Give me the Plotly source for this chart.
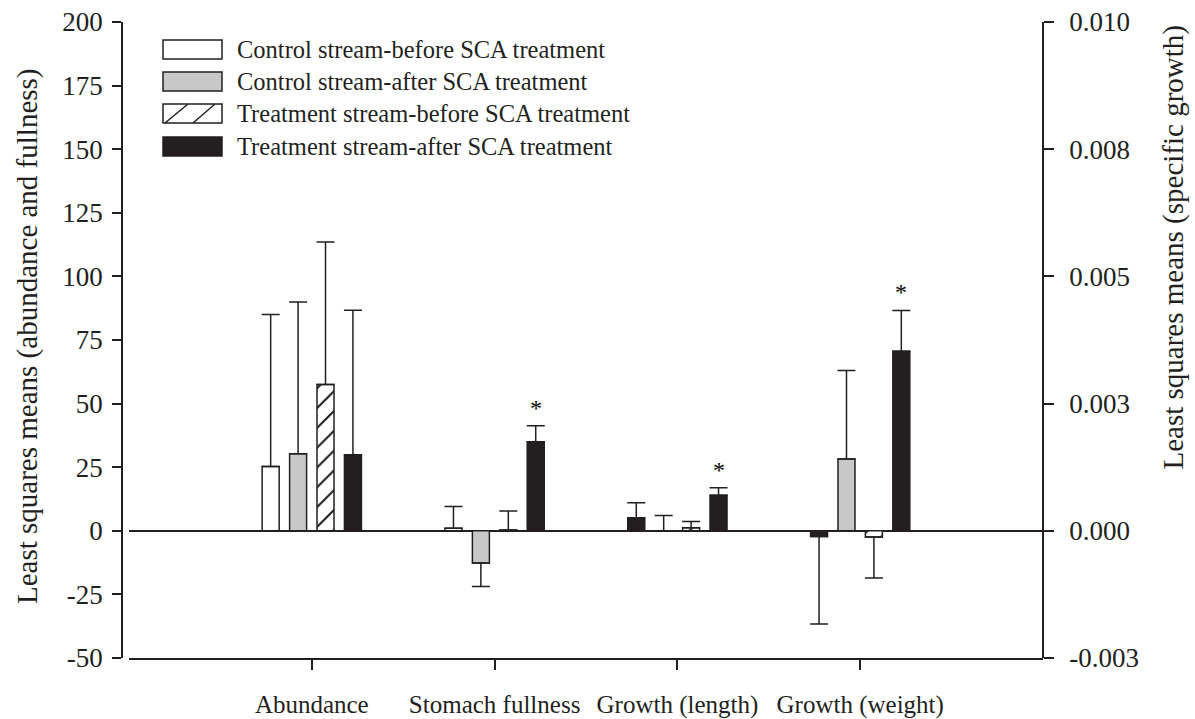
import plotly.graph_objects as go

# ---------------- data ----------------
categories = ["Abundance", "Stomach fullness", "Growth (length)", "Growth (weight)"]
series_names = [
    "Control stream-before SCA treatment",
    "Control stream-after SCA treatment",
    "Treatment stream-before SCA treatment",
    "Treatment stream-after SCA treatment",
]
# left axis (abundance, stomach fullness)
cb_left = [25.3, 1.0]
cb_left_err = [59.7, 8.6]
ca_left = [30.3, -12.7]
ca_left_err = [59.6, 9.2]
tb_left = [57.5, 0.3]
tb_left_err = [56.0, 7.5]
ta_left = [29.9, 35.0]
ta_left_err = [56.8, 6.3]
# right axis (specific growth: length, weight)
cb_right = [0.000255, -0.00011]
cb_right_err = [0.000295, 0.00172]
ca_right = [0.0, 0.00141]
ca_right_err = [0.0003, 0.00174]
tb_right = [0.00006, -0.00012]
tb_right_err = [0.000125, 0.00081]
ta_right = [0.0007, 0.00353]
ta_right_err = [0.000145, 0.0008]
# significance marks for treatment stream-after
ta_sig = [False, True, True, True]

left_tickvals = [-50, -25, 0, 25, 50, 75, 100, 125, 150, 175, 200]
left_ticktext = ["-50", "-25", "0", "25", "50", "75", "100", "125", "150", "175", "200"]
right_tickvals = [-0.0025, 0.0, 0.0025, 0.005, 0.0075, 0.01]
right_ticktext = ["-0.003", "0.000", "0.003", "0.005", "0.008", "0.010"]

# ---------------- style ----------------
W, H = 1195, 719
ML, MR, MT, MB = 122, 152, 22, 61
PW, PH = W - ML - MR, H - MT - MB
FONT = "Liberation Serif, Times New Roman, serif"
INK = "#231f20"
GRAY = "#c8c8c8"
WHITE = "#ffffff"

def xp(px):
    return (px - ML) / PW

def yp(py):
    return 1 - (py - MT) / PH

left_series = [(cb_left, cb_left_err), (ca_left, ca_left_err), (tb_left, tb_left_err), (ta_left, ta_left_err)]
right_series = [(cb_right, cb_right_err), (ca_right, ca_right_err), (tb_right, tb_right_err), (ta_right, ta_right_err)]
left_colors = [WHITE, GRAY, WHITE, INK]
right_colors = [INK, GRAY, WHITE, INK]
hatched = [False, False, True, False]

BW = 0.093
STEP = 0.15

fig = go.Figure()

def add_bars(xcats, vals, errs, color, hatch, offset, yaxis):
    plus = [e if v >= 0 else 0 for v, e in zip(vals, errs)]
    minus = [e if v < 0 else 0 for v, e in zip(vals, errs)]
    marker = dict(color=color, line=dict(color=INK, width=1.5))
    if hatch:
        marker["pattern"] = dict(shape="/", size=14, solidity=0.15, fgcolor=INK,
                                 fgopacity=1, bgcolor=WHITE, fillmode="replace")
    fig.add_trace(go.Bar(
        x=xcats, y=vals, width=BW, offset=offset, yaxis=yaxis,
        marker=marker, showlegend=False,
        error_y=dict(type="data", symmetric=False, array=plus, arrayminus=minus,
                     color=INK, thickness=1.5, width=9),
    ))

for i in range(4):
    off = (i - 1.5) * STEP - BW / 2
    v, e = left_series[i]
    add_bars(categories[:2], v, e, left_colors[i], hatched[i], off, "y")
    v, e = right_series[i]
    add_bars(categories[2:], v, e, right_colors[i], hatched[i], off, "y2")

annotations = []
# significance asterisks
ta_all = ta_left + ta_right
ta_err_all = ta_left_err + ta_right_err
for k, cat in enumerate(categories):
    if ta_sig[k]:
        annotations.append(dict(
            x=cat, y=ta_all[k] + ta_err_all[k], xref="x", yref="y" if k < 2 else "y2",
            xshift=(1.5 * STEP) * (914 / 5.0), text="*", showarrow=False,
            yanchor="bottom", yshift=3, font=dict(family=FONT, size=24, color="#000000")))

# axis titles
annotations.append(dict(x=xp(27), y=yp(336), xref="paper", yref="paper", showarrow=False,
                        text="Least squares means (abundance and fullness)", textangle=-90,
                        font=dict(family=FONT, size=29, color=INK), xanchor="center", yanchor="middle"))
annotations.append(dict(x=xp(1173), y=yp(23), xref="paper", yref="paper", showarrow=False,
                        text="Least squares means (specific growth)", textangle=-90,
                        font=dict(family=FONT, size=29, color=INK), xanchor="center", yanchor="top"))

# manual legend
shapes = []
legend_fill = [WHITE, GRAY, WHITE, INK]
rows_top = [40, 72, 104, 137]
BOX_H = 19
for i, name in enumerate(series_names):
    t = rows_top[i]
    shapes.append(dict(type="rect", xref="paper", yref="paper",
                       x0=xp(163), x1=xp(222), y0=yp(t + BOX_H), y1=yp(t),
                       fillcolor=legend_fill[i], line=dict(color=INK, width=1.5)))
    if hatched[i]:
        for a, b in [(165, 188), (193, 215)]:
            shapes.append(dict(type="line", xref="paper", yref="paper",
                               x0=xp(a), y0=yp(t + BOX_H), x1=xp(b), y1=yp(t),
                               line=dict(color=INK, width=1.5)))
    annotations.append(dict(x=xp(235), y=yp(t + BOX_H / 2), xref="paper", yref="paper",
                            text=name, showarrow=False, xanchor="left", yanchor="middle",
                            font=dict(family=FONT, size=24.5, color=INK)))

fig.update_layout(
    width=W, height=H,
    margin=dict(l=ML, r=MR, t=MT, b=MB, pad=0, autoexpand=False),
    paper_bgcolor="white", plot_bgcolor="white",
    barmode="overlay",
    font=dict(family=FONT, color=INK),
    xaxis=dict(type="category", categoryorder="array", categoryarray=categories,
               domain=[xp(129), 1], range=[-1.0, 4.0], automargin=False,
               showline=True, linecolor=INK, linewidth=1.5,
               ticks="outside", ticklen=10, tickwidth=1.5, tickcolor=INK,
               tickfont=dict(family=FONT, size=25, color=INK), ticklabelstandoff=13,
               showgrid=False, zeroline=False, anchor="y"),
    yaxis=dict(range=[-50, 200], tickvals=left_tickvals, ticktext=left_ticktext,
               anchor="free", position=0, automargin=False,
               showline=True, linecolor=INK, linewidth=1.5,
               ticks="outside", ticklen=9, tickwidth=1.5, tickcolor=INK,
               tickfont=dict(family=FONT, size=27, color=INK), ticklabelstandoff=4,
               showgrid=False, zeroline=True, zerolinecolor=INK, zerolinewidth=1.5),
    yaxis2=dict(range=[-0.0025, 0.01], tickvals=right_tickvals, ticktext=right_ticktext,
                overlaying="y", side="right", anchor="free", position=1,
                automargin=False,
                showline=True, linecolor=INK, linewidth=1.5,
                ticks="outside", ticklen=10, tickwidth=1.5, tickcolor=INK,
                tickfont=dict(family=FONT, size=27, color=INK), ticklabelstandoff=10,
                showgrid=False, zeroline=False),
    shapes=shapes,
    annotations=annotations,
)

fig.write_html("out.html")
